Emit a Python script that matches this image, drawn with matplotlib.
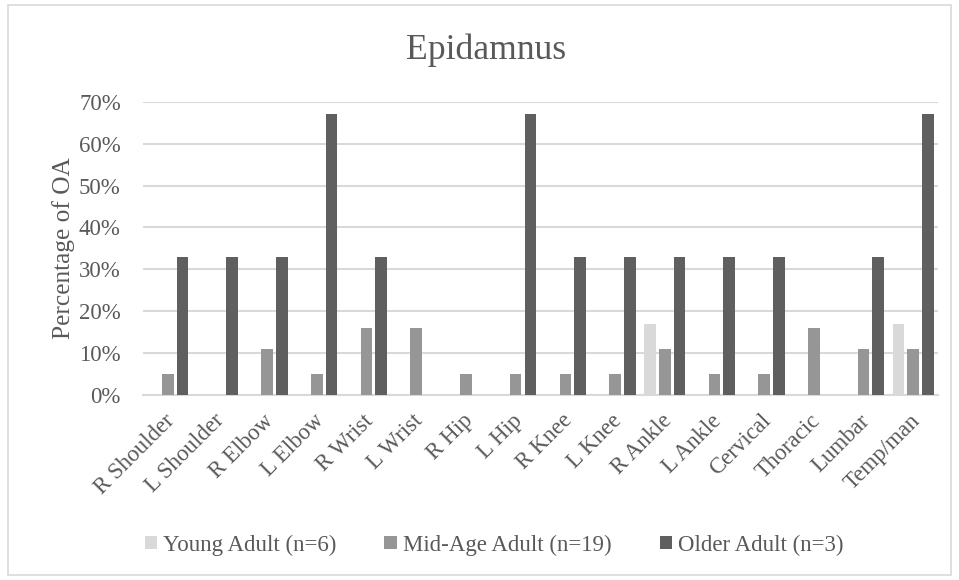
import matplotlib.pyplot as plt
import matplotlib.patches as mpatches
import matplotlib.transforms as mtransforms
import numpy as np
from matplotlib.ticker import PercentFormatter

plt.rcParams['font.family'] = ['Liberation Serif', 'DejaVu Serif']

# Joints and age groups
joints = ['R Shoulder', 'L Shoulder', 'R Elbow', 'L Elbow', 'R Wrist', 'L Wrist',
          'R Hip', 'L Hip', 'R Knee', 'L Knee', 'R Ankle', 'L Ankle',
          'Cervical', 'Thoracic', 'Lumbar', 'Temp/man']
young = [0, 0, 0, 0, 0, 0, 0, 0, 0, 0, 17, 0, 0, 0, 0, 17]
mid_age = [5, 0, 11, 5, 16, 16, 5, 5, 5, 5, 11, 5, 5, 16, 11, 11]
older = [33, 33, 33, 67, 33, 0, 0, 67, 33, 33, 33, 33, 33, 0, 33, 67]

groups = ['Young Adult (n=6)', 'Mid-Age Adult (n=19)', 'Older Adult (n=3)']
colors = ['#D9D9D9', '#969696', '#5F5F5F']
text_col = '#595959'
grid_col = '#D9D9D9'

fig = plt.figure(figsize=(9.59, 5.8), dpi=100)
ax = fig.add_axes([143 / 959, 1 - 395 / 580, (938 - 143) / 959, (395 - 101.7) / 580])

x = np.arange(len(joints))
step = 0.296
width = 0.235
for i, (vals, c, lab) in enumerate(zip([young, mid_age, older], colors, groups)):
    ax.bar(x + (i - 1) * step, vals, width, color=c, label=lab, zorder=3)

ax.set_xlim(-0.5, len(joints) - 0.5)
ax.set_ylim(0, 70)
ax.set_yticks(range(0, 71, 10))
ax.yaxis.set_major_formatter(PercentFormatter(decimals=0))
ax.grid(axis='y', color=grid_col, linewidth=1.5, zorder=0)

for s in ['top', 'right', 'left']:
    ax.spines[s].set_visible(False)
ax.spines['bottom'].set_color(grid_col)
ax.spines['bottom'].set_linewidth(1.5)

ax.tick_params(axis='y', length=0, pad=16, labelsize=16.5, labelcolor=text_col)
ax.tick_params(axis='x', length=0, pad=11, labelsize=16.5, labelcolor=text_col)
ax.set_xticks(x)
ax.set_xticklabels(joints, rotation=45, ha='right', rotation_mode='anchor')
# nudge the slanted labels a little to the left
shift = mtransforms.ScaledTranslation(-4 / 100, 0, fig.dpi_scale_trans)
for lbl in ax.get_xticklabels():
    lbl.set_transform(lbl.get_transform() + shift)

ax.set_ylabel('Percentage of OA', fontsize=18.3, color=text_col, labelpad=3)
fig.text(486 / 959, 1 - 50 / 580, 'Epidamnus', fontsize=25.7, color=text_col,
         ha='center', va='center')

ax.legend(loc='center', bbox_to_anchor=(494 / 959, 1 - 545 / 580),
          bbox_transform=fig.transFigure, ncol=3, frameon=False,
          fontsize=16.5, labelcolor=text_col, handlelength=0.55,
          handleheight=0.55, handletextpad=0.25, columnspacing=2.1)

# light frame around the whole chart
fig.patches.append(mpatches.Rectangle((8 / 959, 5 / 580), 1 - 16 / 959, 1 - 10 / 580,
                                      transform=fig.transFigure, fill=False,
                                      edgecolor='#D9D9D9', linewidth=1.2))

fig.savefig('out.png', dpi=100)
